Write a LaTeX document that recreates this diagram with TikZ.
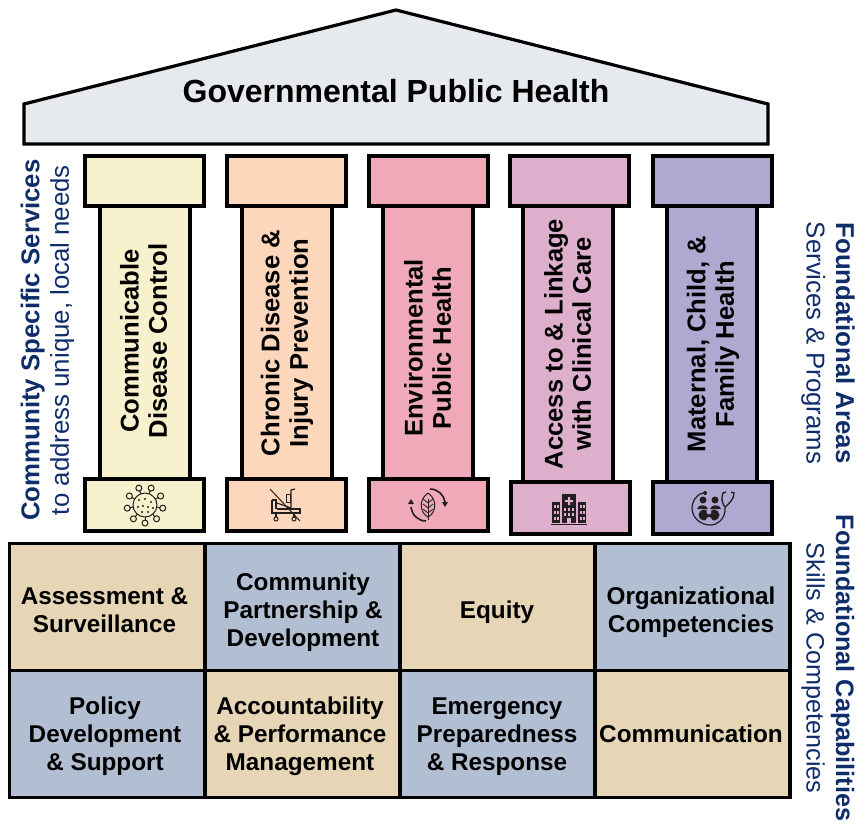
\documentclass[tikz,border=0pt]{standalone}
\usepackage{fontspec}
\setmainfont{Liberation Sans}
\definecolor{cyel}{HTML}{F7F2CD}
\definecolor{cpea}{HTML}{FDD7BC}
\definecolor{cpin}{HTML}{EFA9B9}
\definecolor{cmau}{HTML}{DDAFCD}
\definecolor{cpur}{HTML}{AFA8D1}
\definecolor{ctan}{HTML}{E6D6B6}
\definecolor{cblu}{HTML}{B2BFD3}
\definecolor{croof}{HTML}{E6E9EE}
\definecolor{cnavy}{HTML}{0F2D6B}
\definecolor{cink}{HTML}{231F20}
\tikzset{
  block/.style={draw=black,line width=4pt,inner sep=0pt},
  cell/.style={draw=black,line width=3.5pt,inner sep=0pt,minimum width=195pt,minimum height=127pt},
  celltext/.style={inner sep=0pt,align=center,font=\fontsize{24.3}{28}\selectfont\bfseries},
  label/.style={inner sep=0pt,align=center,rotate=90,font=\fontsize{25.6}{28.3}\selectfont\bfseries},
  side/.style={inner sep=0pt,align=center,text=cnavy,font=\fontsize{25.8}{29.5}\selectfont},
  icon/.style={draw=cink,line width=1pt,fill=none},
  icons/.style={fill=cink,draw=none}
}
\newcommand{\pillar}[8]{%
  % #1 name, #2 colour, #3 cap x-centre, #4 shaft x-centre, #5 base x-centre, #6 base y-centre, #7 text centre, #8 text
  \node[block,fill=#2,minimum width=90pt,minimum height=280pt] (#1s) at (#4,343) {};
  \node[block,fill=#2,minimum width=119pt,minimum height=50pt] (#1c) at (#3,181) {};
  \node[block,fill=#2,minimum width=119pt,minimum height=52pt] (#1b) at (#5,#6) {};
  \node[label] (#1t) at (#7) {#8};
}
\begin{document}
\begin{tikzpicture}[x=1pt,y=-1pt]
\useasboundingbox (0,0) rectangle (866,823);
% roof
\draw[draw=black,line width=3.2pt,fill=croof,line join=miter] (24,104) -- (396,10) -- (768,104) -- (768,144) -- (24,144) -- cycle;
\node[inner sep=0pt,font=\fontsize{32}{38}\selectfont\bfseries] (roof) at (396,91) {Governmental Public Health};
% pillars
\pillar{a}{cyel}{144.5}{145}{144.5}{505}{143.5,341}{Communicable\\Disease Control}
\pillar{b}{cpea}{286.5}{286.5}{286.5}{505}{287,343}{Chronic Disease \&\\Injury Prevention}
\pillar{c}{cpin}{428}{428}{428}{505}{427.5,348}{Environmental\\Public Health}
\pillar{d}{cmau}{569}{568}{570.5}{507.5}{567.5,344}{Access to \& Linkage\\with Clinical Care}
\pillar{e}{cpur}{712}{712}{712}{507.5}{713,344}{Maternal, Child, \&\\Family Health}
% grid
\node[cell,fill=ctan] (g1) at (107,607) {};
\node[cell,fill=cblu] (g2) at (302.5,607) {};
\node[cell,fill=ctan] (g3) at (497.5,607) {};
\node[cell,fill=cblu] (g4) at (692.5,607) {};
\node[cell,fill=cblu] (g5) at (107,734) {};
\node[cell,fill=ctan] (g6) at (302.5,734) {};
\node[cell,fill=cblu] (g7) at (497.5,734) {};
\node[cell,fill=ctan] (g8) at (692.5,734) {};
\node[celltext] (t1) at (104.5,610) {Assessment \&\\Surveillance};
\node[celltext] (t2) at (303,612) {Community\\Partnership \&\\Development};
\node[celltext] (t3) at (497,612) {Equity};
\node[celltext] (t4) at (691,612) {Organizational\\Competencies};
\node[celltext] (t5) at (105,736.5) {Policy\\Development\\\& Support};
\node[celltext] (t6) at (300,736.5) {Accountability\\\& Performance\\Management};
\node[celltext] (t7) at (497,736.5) {Emergency\\Preparedness\\\& Response};
\node[celltext] (t8) at (691,733.5) {Communication};
% side labels
\node[side,rotate=90] (s1) at (47.5,340) {{\bfseries Community Specific Services}\\to address unique, local needs};
\node[side,rotate=-90] (s2) at (828,343) {{\bfseries Foundational Areas}\\Services \& Programs};
\node[side,rotate=-90,font=\fontsize{25.2}{29.5}\selectfont] (s3) at (828,668) {{\bfseries Foundational Capabilities}\\Skills \& Competencies};
% virus icon
\begin{scope}[shift={(145,505)}]
  \draw[icon] (0,0) circle (12);
  \foreach \a in {10,50,90,130,170,210,250,290,330}{
    \draw[icon] (\a:12) -- (\a:15.5);
    \draw[icon] (\a:18) circle (3);
  }
  \foreach \p/\q in {-6/-5,0/-6,6/-3,-7/2,-2/1,3/2,8/3,-3/7,3/7}{
    \fill[cink] (\p,\q) circle (1.2);
  }
\end{scope}
% hospital bed icon
\begin{scope}[shift={(286,506)}]
  \draw[icon,line width=1.2pt] (-14,-6) -- (-14,7) -- (14,7) -- (14,3) -- (-9,3);
  \draw[icon,line width=1.2pt] (-14,-6) -- (-10,-6) -- (-10,3);
  \draw[icon,line width=1.2pt] (-9,-3) -- (5,2);
  \draw[icon,line width=1.2pt] (-10,7) -- (-10,11) (8,7) -- (8,11);
  \draw[icon] (-10,13) circle (2) (8,13) circle (2);
  \draw[icon,line width=1.2pt] (5,3) -- (5,-16) -- (9,-17);
  \draw[icon] (0,-12) rectangle (4,-4);
  \draw[icon] (-16,-17) -- (14,15);
\end{scope}
% leaf and cycle icon
\begin{scope}[shift={(428,505)}]
  \draw[icon] (0,-12) .. controls (10,-5) and (8,8) .. (0,12) .. controls (-8,8) and (-10,-5) .. (0,-12);
  \draw[icon] (0,-6) -- (0,15);
  \foreach \q in {-2,3,8}{\draw[icon,line width=.8pt] (0,\q) -- (5,\q-4) (0,\q) -- (-5,\q-4);}
  \draw[icon,line width=1.6pt] (2,-16) .. controls (10,-16) and (16,-10) .. (17,-3);
  \draw[icon,line width=1.6pt] (-2,16) .. controls (-10,16) and (-16,10) .. (-17,2);
  \fill[cink] (14,-3) -- (20,-3) -- (17,2) -- cycle;
  \fill[cink] (-20,-1) -- (-14,-1) -- (-17,-6) -- cycle;
\end{scope}
% hospital icon
\begin{scope}[shift={(569,508)}]
  \fill[cink] (-7,-14) rectangle (7,15);
  \fill[cink] (-17,-6) rectangle (-9,15);
  \fill[cink] (9,-6) rectangle (17,15);
  \fill[cink] (-18,15.5) rectangle (18,16.8);
  \fill[cmau] (-1,-11) rectangle (1,-3) (-4,-8) rectangle (4,-6);
  \foreach \x in {-15,-12,11,14}{\foreach \y in {-3,3,9}{\fill[cmau] (\x,\y) rectangle (\x+2,\y+3);}}
  \foreach \x in {-5,-1,3}{\foreach \y in {0,5}{\fill[cmau] (\x,\y) rectangle (\x+2,\y+3);}}
  \fill[cmau] (-2,10) rectangle (2,15);
\end{scope}
% family and stethoscope icon
\begin{scope}[shift={(710,508)}]
  \draw[icon,line width=1.2pt] (-7,-15) .. controls (-15,-13) and (-18,-5) .. (-18,0) .. controls (-18,10) and (-9,17) .. (0,17) .. controls (8,17) and (14,11) .. (15,3);
  \fill[cink] (-5,-15) circle (2);
  \draw[icon,line width=1.3pt] (15,3) -- (15,-1) .. controls (12,-5) and (11,-9) .. (13,-15) -- (16,-16) (15,-1) .. controls (19,-4) and (24,-9) .. (24,-15) -- (21,-16);
  \fill[icons] (-7,-8) circle (3.5) (5,-8) circle (3.5);
  \fill[icons] (-13,1) .. controls (-12,-4) and (-3,-4) .. (-2,1) -- cycle;
  \fill[icons] (0,1) .. controls (1,-4) and (10,-4) .. (11,1) -- cycle;
  \fill[icons] (-6,7) circle (5.5) (4,7) circle (5.5);
  \fill[cpur] (-1,4) circle (2.4) (-1,12) circle (3);
\end{scope}
\end{tikzpicture}
\end{document}
